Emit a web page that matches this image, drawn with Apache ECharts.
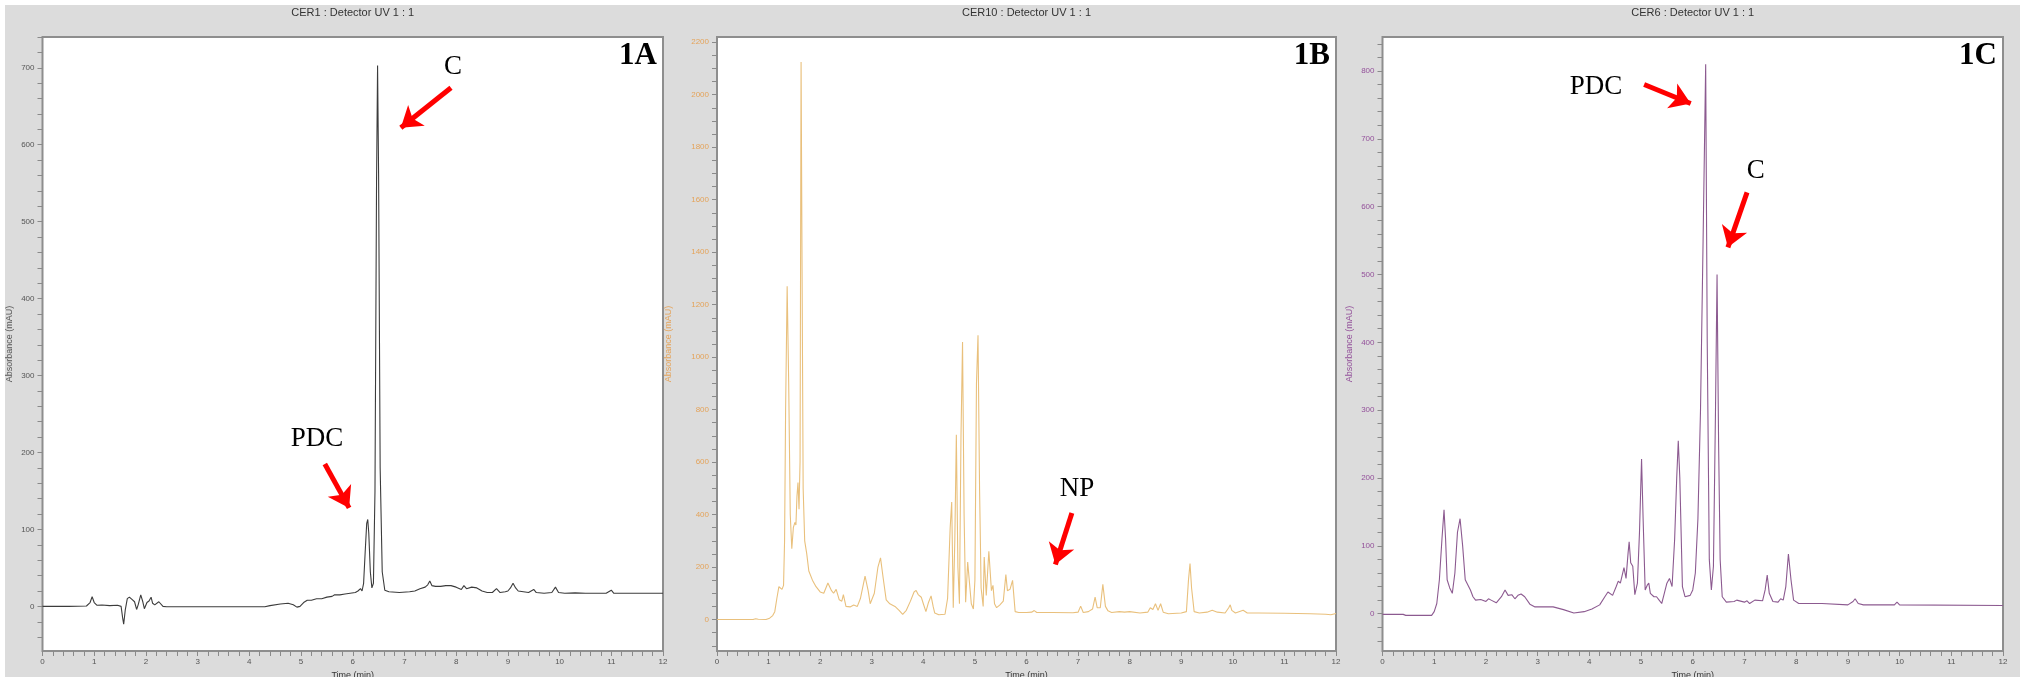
<!DOCTYPE html>
<html>
<head>
<meta charset="utf-8">
<script src="https://cdn.jsdelivr.net/npm/echarts@6/dist/echarts.min.js"></script>
<style>
  html, body { margin: 0; padding: 0; background: #ffffff; }
  #chart { position: absolute; left: 5px; top: 5px; width: 2015px; height: 672px; }
</style>
</head>
<body>
<div id="chart"></div>
<script>
// ---- CER1 chromatogram (time in min, absorbance in mAU) ----
const timeA = [0,0.5,0.85,0.92,0.96,1.0,1.05,1.15,1.3,1.45,1.52,1.55,1.57,1.6,1.64,1.68,1.73,1.78,1.82,1.85,1.9,1.94,1.97,2.02,2.06,2.1,2.13,2.17,2.2,2.25,2.28,2.33,2.4,3.0,4.3,4.4,4.6,4.75,4.85,4.92,4.98,5.05,5.12,5.2,5.3,5.4,5.5,5.6,5.65,5.75,5.85,5.95,6.05,6.1,6.15,6.18,6.21,6.24,6.27,6.29,6.31,6.34,6.37,6.4,6.43,6.46,6.48,6.5,6.53,6.57,6.62,6.7,6.9,7.1,7.2,7.3,7.4,7.45,7.49,7.53,7.6,7.7,7.8,7.9,8.0,8.1,8.15,8.2,8.3,8.4,8.5,8.6,8.7,8.78,8.85,8.95,9.0,9.05,9.1,9.15,9.2,9.3,9.4,9.5,9.55,9.7,9.85,9.92,9.98,10.1,10.3,10.5,10.9,11.0,11.05,11.5,12.0];
const absA  = [0,0,0.5,5,12.5,5,1.5,1.8,1,1.5,0,-15,-23,-5,10,12,9,6,-4,2,15,6,-3,5,7,12,4,2,0,6,4,0,-0.5,-0.5,-0.5,1,3,4,2,-1,0,5,8,8,10,10,12,13,15,15,16,17,18,20,23,20,30,70,108,113,95,45,24,30,150,550,703,560,180,45,21,19,18,19,20,23,25,28,33,27,26,26,27,27,25,22,27,23,25,24,20,18,18,23,18,19,20,24,30,24,20,19,18,22,18,17,18,25,18,17,17.5,17,17,21,17,17,17];

// ---- CER10 chromatogram ----
const timeB = [0,0.7,0.75,0.8,0.95,1.02,1.08,1.12,1.16,1.2,1.23,1.26,1.29,1.31,1.33,1.36,1.39,1.42,1.45,1.48,1.51,1.53,1.55,1.57,1.59,1.61,1.63,1.65,1.67,1.7,1.74,1.78,1.85,1.92,2.0,2.07,2.15,2.22,2.26,2.31,2.37,2.42,2.45,2.5,2.58,2.65,2.72,2.78,2.87,2.93,2.97,3.05,3.12,3.17,3.22,3.28,3.35,3.45,3.53,3.6,3.67,3.75,3.82,3.86,3.9,3.96,4.0,4.05,4.1,4.15,4.19,4.22,4.3,4.42,4.47,4.52,4.55,4.58,4.61,4.64,4.67,4.7,4.73,4.76,4.79,4.82,4.86,4.89,4.93,4.97,5.0,5.03,5.06,5.09,5.12,5.16,5.18,5.22,5.27,5.32,5.35,5.38,5.42,5.48,5.51,5.55,5.6,5.63,5.68,5.73,5.78,5.85,6.0,6.1,6.15,6.2,6.5,6.9,7.0,7.05,7.1,7.2,7.28,7.33,7.37,7.43,7.48,7.53,7.58,7.65,7.8,7.9,8.0,8.2,8.35,8.4,8.45,8.5,8.55,8.6,8.65,8.75,9.0,9.1,9.14,9.17,9.2,9.25,9.35,9.5,9.6,9.7,9.85,9.92,9.95,9.98,10.05,10.2,10.28,10.5,11.0,11.5,11.8,11.9,12.0];
const absB  = [0,0,3,1,0,5,15,30,80,125,130,115,130,300,800,1270,900,400,270,350,370,360,470,522,420,600,2125,1300,500,300,250,185,150,125,105,100,139,110,100,115,75,70,95,50,48,55,50,80,165,110,60,100,200,235,160,75,60,50,35,20,35,70,105,111,95,85,60,30,65,90,50,25,18,20,80,350,448,45,300,704,200,60,700,1058,400,66,219,150,60,40,150,900,1083,500,120,50,238,92,260,110,130,60,45,55,50,70,171,110,115,149,30,27,27,28,34,27,27,26,28,51,27,30,40,85,45,45,134,50,33,27,30,28,30,25,28,45,38,60,35,60,28,22,25,30,150,213,120,30,25,28,35,28,25,45,56,35,25,35,25,25,24,22,20,18,23];

// ---- CER6 chromatogram ----
const timeC = [0,0.4,0.45,0.95,1.0,1.05,1.1,1.15,1.19,1.22,1.25,1.3,1.35,1.4,1.45,1.5,1.55,1.6,1.7,1.75,1.8,1.9,2.0,2.05,2.1,2.2,2.3,2.37,2.43,2.5,2.56,2.62,2.68,2.75,2.85,2.95,3.3,3.5,3.7,3.9,4.05,4.2,4.3,4.36,4.45,4.52,4.56,4.6,4.67,4.71,4.75,4.77,4.8,4.84,4.88,4.93,4.97,5.01,5.04,5.08,5.12,5.15,5.18,5.25,5.3,5.35,5.4,5.45,5.5,5.55,5.6,5.65,5.69,5.72,5.75,5.8,5.85,5.95,6.0,6.05,6.1,6.15,6.2,6.25,6.28,6.32,6.36,6.4,6.44,6.47,6.5,6.53,6.57,6.65,6.8,6.85,7.0,7.05,7.1,7.2,7.35,7.4,7.44,7.48,7.55,7.65,7.7,7.75,7.8,7.85,7.9,7.95,8.05,8.5,9.0,9.1,9.14,9.2,9.3,9.5,9.9,9.95,10.0,12.0];
const absC  = [-1,-1,-2.5,-2.5,3,15,50,110,153,110,50,38,30,60,120,140,100,50,35,25,20,21,18,22,20,16,25,35,27,28,22,27,29,25,14,10,10,6,1,3,7,13,25,32,27,40,48,45,68,52,90,106,75,70,28,45,120,228,140,35,42,45,30,25,25,20,15,30,45,52,40,110,200,255,200,40,25,27,35,60,140,300,550,810,400,80,35,70,300,500,250,80,25,17,18,20,17,19,15,20,19,35,57,30,18,17,22,20,40,88,50,20,15,15,13,18,22,15,13,13,13,17,13,12];

// ---- axis ticks and labels ----
const timeLabels = [0,1,2,3,4,5,6,7,8,9,10,11,12];
const labelsA = [0,100,200,300,400,500,600,700];
const labelsB = [0,200,400,600,800,1000,1200,1400,1600,1800,2000,2200];
const labelsC = [0,100,200,300,400,500,600,700,800];
const titles = ['CER1 : Detector UV 1 : 1', 'CER10 : Detector UV 1 : 1', 'CER6 : Detector UV 1 : 1'];
const panelTags = ['1A', '1B', '1C'];

function steps(from, to, step) {
  const out = [];
  for (let v = from; v <= to + 1e-9; v += step) out.push(Math.round(v * 1000) / 1000);
  return out;
}
const timeMinor = steps(0, 12, 0.2);

const SANS = '"Liberation Sans", Arial, sans-serif';
const SERIF = '"Liberation Serif", "Times New Roman", serif';

const panels = [
  { left: 37.5, width: 620.5, min: -58, max: 740, labels: labelsA, minor: steps(-40, 740, 20),
    lineColor: '#3c3c3c', textColor: '#555555', nameGap: 28, time: timeA, abs: absA },
  { left: 712, width: 619, min: -120, max: 2220, labels: labelsB, minor: steps(-100, 2200, 50),
    lineColor: '#e9c07c', textColor: '#e4a35a', nameGap: 44, time: timeB, abs: absB },
  { left: 1377.5, width: 620.5, min: -55, max: 850, labels: labelsC, minor: steps(-40, 840, 20),
    lineColor: '#8c5a90', textColor: '#93509a', nameGap: 28, time: timeC, abs: absC }
];

const GRID_TOP = 32, GRID_H = 614;

// red arrow annotations [tail, head] in data coordinates, plus their labels
const arrows = [
  [ [[7.90, 674], [6.93, 622]], [[5.46, 185], [5.93, 128]] ],
  [ [[6.88, 406], [6.56, 210]] ],
  [ [[5.06, 780], [5.96, 752]], [[7.05, 621], [6.68, 540]] ]
];
const notes = [
  [ { t: 7.94, v: 701, text: 'C' }, { t: 5.31, v: 218, text: 'PDC' } ],
  [ { t: 6.98, v: 498, text: 'NP' } ],
  [ { t: 4.13, v: 777, text: 'PDC' }, { t: 7.22, v: 652, text: 'C' } ]
];

const option = {
  backgroundColor: '#dcdcdc',
  animation: false,
  title: panels.map((p, i) => ({
    text: titles[i],
    left: p.left + p.width / 2,
    top: 2,
    padding: 0,
    textAlign: 'center',
    textStyle: { fontSize: 11, fontWeight: 'normal', color: '#333', fontFamily: SANS }
  })),
  grid: panels.map(p => ({
    left: p.left, top: GRID_TOP, width: p.width, height: GRID_H,
    outerBoundsMode: 'none', containLabel: false,
    show: true, backgroundColor: '#ffffff', borderColor: '#8e8e8e', borderWidth: 2
  })),
  xAxis: panels.map((p, i) => ({
    type: 'value', gridIndex: i, min: 0, max: 12,
    name: 'Time (min)', nameLocation: 'middle', nameGap: 14,
    nameTextStyle: { fontSize: 9, color: '#333', fontFamily: SANS },
    axisLine: { show: false, onZero: false },
    splitLine: { show: false },
    axisTick: { show: true, length: 5, customValues: timeMinor, lineStyle: { color: '#8a8a8a' } },
    axisLabel: { customValues: timeLabels, fontSize: 8, color: '#555', margin: 7, fontFamily: SANS,
                 formatter: v => String(v) }
  })),
  yAxis: panels.map((p, i) => ({
    type: 'value', gridIndex: i, min: p.min, max: p.max,
    name: 'Absorbance (mAU)', nameLocation: 'middle', nameGap: p.nameGap,
    nameTextStyle: { fontSize: 9, color: p.textColor, fontFamily: SANS },
    axisLine: { show: false, onZero: false },
    splitLine: { show: false },
    axisTick: { show: true, length: 5, customValues: p.minor, lineStyle: { color: '#8a8a8a' } },
    axisLabel: { customValues: p.labels, fontSize: 8, color: p.textColor, margin: 8, fontFamily: SANS,
                 formatter: v => String(v) }
  })),
  series: panels.map((p, i) => ({
    type: 'line', xAxisIndex: i, yAxisIndex: i,
    data: p.time.map((t, k) => [t, p.abs[k]]),
    showSymbol: false, symbol: 'none', sampling: null,
    lineStyle: { color: p.lineColor, width: 1.1 },
    silent: true,
    markLine: {
      silent: true, animation: false,
      symbol: ['none', 'arrow'], symbolSize: 20,
      lineStyle: { color: '#ff0000', width: 5, type: 'solid' },
      label: { show: false },
      emphasis: { disabled: true },
      data: arrows[i].map(a => [{ coord: a[0] }, { coord: a[1] }])
    },
    markPoint: {
      silent: true, animation: false,
      symbol: 'rect', symbolSize: 1,
      itemStyle: { color: 'rgba(0,0,0,0)' },
      label: { show: true, position: 'inside', fontSize: 27, color: '#000', fontFamily: SERIF },
      data: notes[i].map(n => ({ coord: [n.t, n.v], label: { formatter: n.text } }))
    }
  })),
  graphic: panels.map((p, i) => ({
    type: 'text',
    x: p.left + p.width - 6,
    y: 51,
    style: {
      text: panelTags[i], fill: '#000',
      font: 'bold 31px ' + SERIF,
      textAlign: 'right', textVerticalAlign: 'middle'
    }
  }))
};

const chart = echarts.init(document.getElementById('chart'), null, { renderer: 'canvas' });
chart.setOption(option);
</script>
</body>
</html>
